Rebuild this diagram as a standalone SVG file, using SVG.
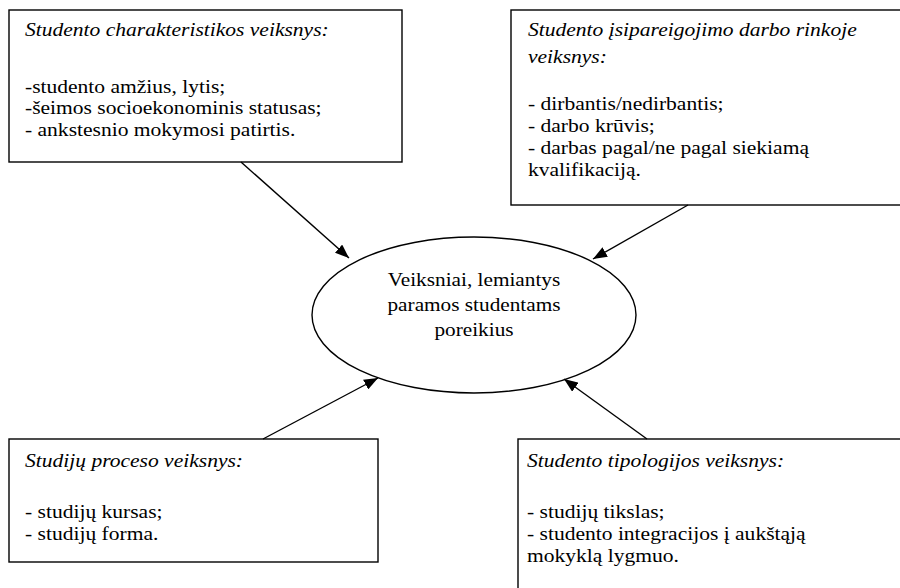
<svg xmlns="http://www.w3.org/2000/svg" width="900" height="588" viewBox="0 0 900 588" font-family="'Liberation Serif', 'DejaVu Serif', serif">
<style>
.box{fill:#fff;stroke:#000;stroke-width:1.4}
text{font-family:'Liberation Serif','DejaVu Serif',serif;font-size:19px;fill:#000}
.it{font-style:italic}
.c{text-anchor:middle}
.conn line{stroke:#000;stroke-width:1.4}
</style>
<defs>
<marker id="ah" viewBox="0 0 14 11" refX="14" refY="5.5" markerWidth="14" markerHeight="11" markerUnits="userSpaceOnUse" orient="auto">
<path d="M0,0 L14,5.5 L0,11 Z" fill="#000"/>
</marker>
</defs>
<rect width="900" height="588" fill="#fff"/>
<g id="n1">
<rect class="box" x="9" y="10" width="393" height="152"/>
<g transform="translate(25 0) scale(1.134 1) translate(-25 0)">
<text class="it" x="25" y="36">Studento charakteristikos veiksnys:</text>
<text x="25" y="93">-studento amžius, lytis;</text>
<text x="25" y="114.5">-šeimos socioekonominis statusas;</text>
<text x="25" y="136">- ankstesnio mokymosi patirtis.</text>
</g>
</g>
<g id="n2">
<rect class="box" x="511" y="10" width="400" height="195"/>
<g transform="translate(528 0) scale(1.134 1) translate(-528 0)">
<text class="it" x="528" y="36">Studento įsipareigojimo darbo rinkoje</text>
<text class="it" x="528" y="63">veiksnys:</text>
<text x="528" y="110">- dirbantis/nedirbantis;</text>
<text x="528" y="132">- darbo krūvis;</text>
<text x="528" y="154">- darbas pagal/ne pagal siekiamą</text>
<text x="528" y="176">kvalifikaciją.</text>
</g>
</g>
<g id="center">
<ellipse class="box" cx="474" cy="315" rx="162" ry="78"/>
<g transform="translate(474 0) scale(1.12 1) translate(-474 0)">
<text class="c" x="474" y="286">Veiksniai, lemiantys</text>
<text class="c" x="474" y="311">paramos studentams</text>
<text class="c" x="474" y="336">poreikius</text>
</g>
</g>
<g id="n3">
<rect class="box" x="9" y="439" width="369" height="123"/>
<g transform="translate(25 0) scale(1.134 1) translate(-25 0)">
<text class="it" x="25" y="467">Studijų proceso veiksnys:</text>
<text x="25" y="518">- studijų kursas;</text>
<text x="25" y="540">- studijų forma.</text>
</g>
</g>
<g id="n4">
<rect class="box" x="518" y="439" width="400" height="160"/>
<g transform="translate(527 0) scale(1.134 1) translate(-527 0)">
<text class="it" x="527" y="467">Studento tipologijos veiksnys:</text>
<text x="527" y="518">- studijų tikslas;</text>
<text x="527" y="540">- studento integracijos į aukštąją</text>
<text x="527" y="562">mokyklą lygmuo.</text>
</g>
</g>
<g id="connectors" class="conn">
<line x1="241" y1="162" x2="349" y2="258" marker-end="url(#ah)"/>
<line x1="688" y1="205" x2="593" y2="259" marker-end="url(#ah)"/>
<line x1="263" y1="439" x2="378" y2="378" marker-end="url(#ah)"/>
<line x1="647" y1="439" x2="564" y2="379" marker-end="url(#ah)"/>
</g>
</svg>
